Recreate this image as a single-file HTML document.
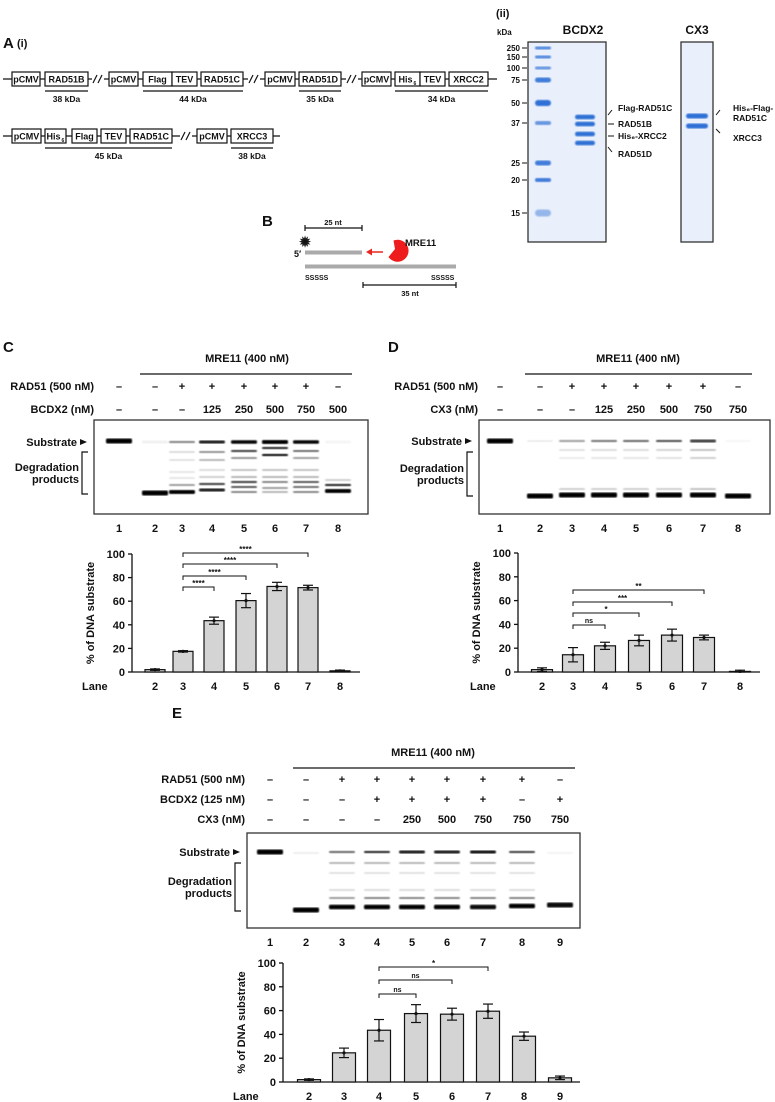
<!DOCTYPE html>
<html><head><meta charset="utf-8">
<style>
html,body{margin:0;padding:0;background:#fff;}
svg{display:block;font-family:"Liberation Sans",Arial,sans-serif;}
text{font-weight:bold;fill:#111;}
</style></head>
<body>
<svg id="fig" width="775" height="1102" viewBox="0 0 775 1102" xmlns="http://www.w3.org/2000/svg">
<defs>
<filter id="blur1"><feGaussianBlur stdDeviation="0.9"/></filter>
<filter id="blur2"><feGaussianBlur stdDeviation="1.3"/></filter>
</defs>
<g id="static">
<text x="3" y="48" font-size="15">A</text>
<text x="17" y="47" font-size="11">(i)</text>
<text x="496" y="17" font-size="11">(ii)</text>
<text x="262" y="226" font-size="15">B</text>
<text x="3" y="352" font-size="15">C</text>
<text x="388" y="352" font-size="15">D</text>
<text x="172" y="718" font-size="15">E</text>
</g>
<g id="plasmids"></g>
<g id="sds"></g>
<g id="schem"></g>
<g id="panelC"></g>
<g id="panelD"></g>
<g id="panelE"></g>
</svg>
<script>
// ---------- chart data ----------
const cLanes = ["2","3","4","5","6","7","8"];
const cValues = [2, 17.5, 43.5, 60.5, 72.5, 71.5, 1];
const cErrors = [0.6, 0.6, 3, 6, 3.5, 2, 0.6];
const cSigLabels = ["****","****","****","****"];
const cSigTargets = ["4","5","6","7"];

const dLanes = ["2","3","4","5","6","7","8"];
const dValues = [2, 14.5, 22, 26.5, 31, 29, 0.5];
const dErrors = [1.5, 6, 3, 4.5, 5, 2, 1];
const dSigLabels = ["ns","*","***","**"];
const dSigTargets = ["4","5","6","7"];

const eLanes = ["2","3","4","5","6","7","8","9"];
const eValues = [2, 24.5, 43.5, 57.5, 57, 59.5, 38.5, 3.5];
const eErrors = [0.6, 4, 9, 7.5, 5, 6, 3.5, 1.5];
const eSigLabels = ["ns","ns","*"];
const eSigTargets = ["5","6","7"];

const yTicks = [0, 20, 40, 60, 80, 100];

const NS = "http://www.w3.org/2000/svg";
function mk(parent, tag, attrs, txt){
  const e = document.createElementNS(NS, tag);
  for (const k in attrs) e.setAttribute(k, attrs[k]);
  if (txt !== undefined) e.textContent = txt;
  parent.appendChild(e);
  return e;
}

// ---------- plasmid diagrams ----------
const P = document.getElementById('plasmids');
function plasmidRow(y, x0, x1, boxes, breaks, unders){
  let l = mk(P,'line',{x1:x0,x2:x1,y1:y,y2:y,stroke:'#111','stroke-width':1.2});
  
  
  boxes.forEach(b=>{
    let r = mk(P,'rect',{x:b[0],y:y-7,width:b[1]-b[0],height:14,fill:'#fff',stroke:'#111','stroke-width':1.2});
    
    
    let cx = (b[0]+b[1])/2 - (b[3]?2:0);
    let t = mk(P,'text',{x:cx,y:y+3.5,'font-size':9,'text-anchor':'middle'}, b[2]);
    
    
    if (b[3]) { let s = mk(P,'text',{x:cx+8,y:y+6,'font-size':5},'6');
      
       }
  });
  breaks.forEach(bx=>{
    let w = mk(P,'rect',{x:bx-6,y:y-2,width:12,height:4,fill:'#fff'});
    
    
    [-3,2].forEach(o=>{
      let s = mk(P,'line',{x1:bx+o-2,y1:y+4,x2:bx+o+2,y2:y-4,stroke:'#111','stroke-width':1.2});
      
      
    });
  });
  unders.forEach(u=>{
    let l2 = mk(P,'line',{x1:u[0],x2:u[1],y1:y+12,y2:y+12,stroke:'#111','stroke-width':1.2});
    
    
    let t = mk(P,'text',{x:(u[0]+u[1])/2,y:y+23,'font-size':8.5,'text-anchor':'middle'},u[2]);
    
    
  });
}
plasmidRow(79, 3, 497,
 [[12,40,'pCMV'],[45,88,'RAD51B'],[109,138,'pCMV'],[143,172,'Flag'],[172,197,'TEV'],[201,243,'RAD51C'],[265,295,'pCMV'],[299,341,'RAD51D'],[362,391,'pCMV'],[395,420,'His',1],[420,445,'TEV'],[449,488,'XRCC2']],
 [98,254,352],
 [[45,88,'38 kDa'],[143,243,'44 kDa'],[299,341,'35 kDa'],[395,488,'34 kDa']]);
plasmidRow(136, 3, 280,
 [[12,41,'pCMV'],[45,66,'His',1],[72,97,'Flag'],[101,126,'TEV'],[130,172,'RAD51C'],[197,227,'pCMV'],[231,273,'XRCC3']],
 [186],
 [[45,172,'45 kDa'],[231,273,'38 kDa']]);

// ---------- SDS-PAGE ----------
const S = document.getElementById('sds');
function gelBox(x,y,w,h,name){
  let r = mk(S,'rect',{x:x,y:y,width:w,height:h,fill:'#eaf0fb',stroke:'#333','stroke-width':1.3});
  
  
}
function blueBand(cx,y,w,h,op){
  let b = mk(S,'rect',{x:cx-w/2,y:y-h/2,width:w,height:h,rx:h/2,fill:'#2f6fd6',opacity:op,filter:'url(#blur1)'});
  
  
}
gelBox(528,42,78,200,'bcdx2-gel');
gelBox(681,42,32,200,'cx3-gel');
let t1 = mk(S,'text',{x:583,y:34,'font-size':12,'text-anchor':'middle'},'BCDX2');


let t2 = mk(S,'text',{x:697,y:34,'font-size':12,'text-anchor':'middle'},'CX3');


let kd = mk(S,'text',{x:497,y:35,'font-size':8},'kDa');


const markers = [['250',48,.8,3],['150',57,.8,3],['100',68,.7,3],['75',80,.9,5],['50',103,1,6],['37',123,.7,4],['25',163,.9,5],['20',180,.9,4],['15',213,.45,7]];
markers.forEach(m=>{
  blueBand(543,m[1],16,m[3],m[2]);
  let t = mk(S,'text',{x:520,y:m[1]+3,'font-size':8,'text-anchor':'end'},m[0]);
  
  
  let l = mk(S,'line',{x1:522,x2:527,y1:m[1],y2:m[1],stroke:'#111','stroke-width':1});
  
  
});
[117,124,134,143].forEach(y=>blueBand(585,y,20,4.5,1));
[116,126].forEach(y=>blueBand(697,y,22,5,1));
const sdsLabels = [[618,111,'Flag-RAD51C'],[618,127,'RAD51B'],[618,139,'His₆-XRCC2'],[618,157,'RAD51D'],[733,111,'His₆-Flag-'],[733,121,'RAD51C'],[733,141,'XRCC3']];
sdsLabels.forEach(s=>{
  let t = mk(S,'text',{x:s[0],y:s[1],'font-size':8.5},s[2]);
  
  
});
[[608,115,612,110],[608,124,614,124],[608,136,614,136],[608,147,612,152],[716,115,720,110],[716,129,720,133]].forEach(l=>{
  let e = mk(S,'line',{x1:l[0],y1:l[1],x2:l[2],y2:l[3],stroke:'#111','stroke-width':1});
  
  
});

// ---------- Schematic B ----------
const B = document.getElementById('schem');
function sl(x1,y1,x2,y2,c,w,name){
  let e = mk(B,'line',{x1:x1,y1:y1,x2:x2,y2:y2,stroke:c,'stroke-width':w});
  
  
}
sl(305,228,362,228,'#111',1.2,'length-bar-25nt');
sl(305,225,305,231,'#111',1.2,'length-bar-cap');
sl(362,225,362,231,'#111',1.2,'length-bar-cap');
let n25 = mk(B,'text',{x:333,y:225,'font-size':7.5,'text-anchor':'middle'},'25 nt');


let star = mk(B,'text',{x:305,y:246,'font-size':12,'text-anchor':'middle',fill:'#d8c800',stroke:'#222','stroke-width':0.5},'✹');


let p5 = mk(B,'text',{x:294,y:257,'font-size':9,'font-weight':'normal'},'5′');


sl(305,252.5,362,252.5,'#aaa',4,'top-strand');
sl(305,266.5,456,266.5,'#aaa',4,'bottom-strand');
sl(370,252,383,252,'#e8261d',1.5,'nuclease-arrow');
let ah = mk(B,'path',{d:'M366 252 L372 248.5 L372 255.5 Z',fill:'#e8261d'});


let pac = mk(B,'path',{d:'M393.5 240.5 A11 11 0 1 1 388.5 257 L395 249 Z',fill:'#ee1c1c'});


let mre = mk(B,'text',{x:405,y:246,'font-size':9.5},'MRE11');


[305,431].forEach(x=>{
  let s = mk(B,'text',{x:x,y:280,'font-size':7,fill:'#777','font-weight':'normal'},'SSSSS');
  
  
});
sl(363,285,456,285,'#111',1.2,'length-bar-35nt');
sl(363,282,363,288,'#111',1.2,'length-bar-cap');
sl(456,282,456,288,'#111',1.2,'length-bar-cap');
let n35 = mk(B,'text',{x:410,y:296,'font-size':7.5,'text-anchor':'middle'},'35 nt');



// ---------- Panels C, D, E ----------
function panel(G, cfg){
  let mt = mk(G,'text',{x:cfg.mreX,y:cfg.mreY,'font-size':11,'text-anchor':'middle'},'MRE11 (400 nM)');
  
  
  let ml = mk(G,'line',{x1:cfg.mreL[0],x2:cfg.mreL[1],y1:cfg.mreY+12,y2:cfg.mreY+12,stroke:'#111','stroke-width':1.2});
  
  
  cfg.rows.forEach(r=>{
    let lt = mk(G,'text',{x:cfg.labelRight,y:r.y+4,'font-size':11,'text-anchor':'end'},r.label);
    
    
    r.vals.forEach((v,i)=>{
      let vt = mk(G,'text',{x:cfg.cols[i],y:r.y+4,'font-size':11,'text-anchor':'middle'},v==='-'?'–':v);
      
      
    });
  });
  const g = cfg.gel;
  let gb = mk(G,'rect',{x:g.x,y:g.y,width:g.w,height:g.h,fill:'#fff',stroke:'#333','stroke-width':1.3});
  
  
  g.lanes.forEach((bands,i)=>{
    bands.forEach(b=>{
      let r = mk(G,'rect',{x:cfg.cols[i]-13,y:b[0]-b[2]/2,width:26,height:b[2],rx:1.5,fill:'#000',opacity:b[1],filter:'url(#blur1)'});
      
      
    });
  });
  let st = mk(G,'text',{x:g.x-17,y:g.subY+4,'font-size':11,'text-anchor':'end'},'Substrate');
  
  
  let sa = mk(G,'path',{d:`M${g.x-14} ${g.subY-3} L${g.x-7} ${g.subY} L${g.x-14} ${g.subY+3} Z`,fill:'#111'});
  
  
  let br = mk(G,'path',{d:`M${g.x-6} ${g.brk[0]} L${g.x-12} ${g.brk[0]} L${g.x-12} ${g.brk[1]} L${g.x-6} ${g.brk[1]}`,fill:'none',stroke:'#111','stroke-width':1.2});
  
  
  let d1 = mk(G,'text',{x:g.x-15,y:(g.brk[0]+g.brk[1])/2-2,'font-size':11,'text-anchor':'end'},'Degradation');
  
  
  let d2 = mk(G,'text',{x:g.x-15,y:(g.brk[0]+g.brk[1])/2+10,'font-size':11,'text-anchor':'end'},'products');
  
  
  cfg.cols.forEach((x,i)=>{
    let ln = mk(G,'text',{x:x,y:g.y+g.h+18,'font-size':11,'text-anchor':'middle'},String(i+1));
    
    
  });
  const c = cfg.chart;
  const yS = v => c.y0 - v*(c.y0-c.y100)/100;
  const xOf = lane => c.barX[c.lanes.indexOf(lane)];
  let ax = mk(G,'line',{x1:c.ax,x2:c.ax,y1:c.y100,y2:c.y0,stroke:'#111','stroke-width':1.3});
  
  
  let bx = mk(G,'line',{x1:c.ax,x2:c.axEnd,y1:c.y0,y2:c.y0,stroke:'#111','stroke-width':1.3});
  
  
  yTicks.forEach(t=>{
    let tk = mk(G,'line',{x1:c.ax-4,x2:c.ax,y1:yS(t),y2:yS(t),stroke:'#111','stroke-width':1.3});
    
    
    let tl = mk(G,'text',{x:c.ax-7,y:yS(t)+4,'font-size':11,'text-anchor':'end'},String(t));
    
    
  });
  let yt = mk(G,'text',{x:0,y:0,'font-size':11,'text-anchor':'middle',transform:`translate(${c.ax-38},${(c.y0+c.y100)/2}) rotate(-90)`},'% of DNA substrate');
  
  
  let lw = mk(G,'text',{x:c.laneX,y:c.y0+18,'font-size':11},'Lane');
  
  
  c.values.forEach((v,i)=>{
    const x = c.barX[i];
    let bar = mk(G,'rect',{x:x-c.bw/2,y:yS(v),width:c.bw,height:c.y0-yS(v),fill:'#d4d4d4',stroke:'#111','stroke-width':1.2});
    
    
    const e = c.errors[i];
    let ev = mk(G,'line',{x1:x,x2:x,y1:yS(v+e),y2:yS(Math.max(0,v-e)),stroke:'#111','stroke-width':1.2});
    
    
    [v+e, Math.max(0,v-e)].forEach(q=>{
      let cp = mk(G,'line',{x1:x-5,x2:x+5,y1:yS(q),y2:yS(q),stroke:'#111','stroke-width':1.2});
      
      
    });
    let dp = mk(G,'circle',{cx:x,cy:yS(v),r:1.6,fill:'#111'});
    
    
    let xl = mk(G,'text',{x:x,y:c.y0+18,'font-size':11,'text-anchor':'middle'},c.lanes[i]);
    
    
  });
  c.sigTargets.forEach((tgt,i)=>{
    const x1 = xOf(c.sigFrom), x2 = xOf(tgt), y = c.sigY[i];
    let p = mk(G,'path',{d:`M${x1} ${y+4} L${x1} ${y} L${x2} ${y} L${x2} ${y+4}`,fill:'none',stroke:'#111','stroke-width':1});
    
    
    const lab = c.sigLabels[i];
    let st2 = mk(G,'text',{x:(x1+x2)/2,y:lab==='ns'?y-2:y-1,'font-size':lab==='ns'?7:8,'text-anchor':'middle','font-weight':lab==='ns'?'normal':'bold'},lab);
    
    
  });
}

panel(document.getElementById('panelC'),{
  mreX:247, mreY:362, mreL:[140,352], labelRight:94,
  cols:[119,155,182,212,244,275,306,338],
  rows:[{y:386,label:'RAD51 (500 nM)',vals:['-','-','+','+','+','+','+','-']},
        {y:409,label:'BCDX2 (nM)',vals:['-','-','-','125','250','500','750','500']}],
  gel:{x:94,y:420,w:274,h:94,subY:442,brk:[452,494],
    lanes:[
      [[441,1,5]],
      [[442,.06,3],[493,1,5]],
      [[442,.45,2.5],[452,.15,2],[460,.12,2],[472,.1,2],[478,.1,2],[485,.4,2],[492,1,4]],
      [[442,.9,3],[452,.45,2],[460,.3,2],[470,.15,2],[477,.2,2],[484,.7,2.5],[490,.9,3]],
      [[442,1,3.5],[451,.7,2.5],[458,.45,2],[470,.25,2],[477,.3,2],[482,.7,2.5],[487,.7,2],[492,.5,2]],
      [[442,1,4],[448,.8,2.5],[455,.9,2.5],[470,.25,2],[477,.3,2],[482,.5,2],[488,.4,2],[492,.3,2]],
      [[442,1,3.5],[451,.6,2],[458,.4,2],[470,.25,2],[477,.3,2],[482,.7,2],[487,.6,2],[492,.5,2]],
      [[442,.04,3],[480,.2,2],[485,.8,2.5],[491,1,4]]
    ]},
  chart:{ax:132, axEnd:360, y0:672, y100:554, bw:20, laneX:82,
    barX:[155,183,214,246,277,308,340], lanes:cLanes, values:cValues, errors:cErrors,
    sigFrom:"3", sigTargets:cSigTargets, sigLabels:cSigLabels, sigY:[587,576,564,553]}
});
panel(document.getElementById('panelD'),{
  mreX:638, mreY:362, mreL:[525,752], labelRight:478,
  cols:[500,540,572,604,636,669,703,738],
  rows:[{y:386,label:'RAD51 (500 nM)',vals:['-','-','+','+','+','+','+','-']},
        {y:409,label:'CX3 (nM)',vals:['-','-','-','125','250','500','750','750']}],
  gel:{x:479,y:420,w:291,h:94,subY:441,brk:[452,496],
    lanes:[
      [[441,1,5]],
      [[441,.08,2],[496,1,5]],
      [[441,.35,2.5],[450,.12,2],[458,.08,2],[489,.2,2],[495,1,5]],
      [[441,.5,2.5],[450,.15,2],[458,.1,2],[489,.2,2],[495,1,5]],
      [[441,.55,2.5],[450,.15,2],[458,.1,2],[489,.2,2],[495,1,5]],
      [[441,.65,2.5],[450,.18,2],[458,.12,2],[489,.2,2],[495,1,5]],
      [[441,.75,3],[450,.25,2],[458,.2,2],[489,.25,2],[495,1,5]],
      [[441,.04,2],[496,1,5]]
    ]},
  chart:{ax:518, axEnd:760, y0:672, y100:553, bw:21, laneX:470,
    barX:[542,573,605,639,672,704,740], lanes:dLanes, values:dValues, errors:dErrors,
    sigFrom:"3", sigTargets:dSigTargets, sigLabels:dSigLabels, sigY:[625,613,602,590]}
});
panel(document.getElementById('panelE'),{
  mreX:433, mreY:756, mreL:[293,575], labelRight:245,
  cols:[270,306,342,377,412,447,483,522,560],
  rows:[{y:779,label:'RAD51 (500 nM)',vals:['-','-','+','+','+','+','+','+','-']},
        {y:799,label:'BCDX2 (125 nM)',vals:['-','-','-','+','+','+','+','-','+']},
        {y:819,label:'CX3 (nM)',vals:['-','-','-','-','250','500','750','750','750']}],
  gel:{x:247,y:833,w:333,h:95,subY:852,brk:[863,911],
    lanes:[
      [[852,1,5]],
      [[853,.07,2],[910,1,5]],
      [[852,.55,2.5],[863,.3,2],[873,.12,2],[890,.15,2],[898,.4,2],[907,1,4.5]],
      [[852,.8,2.5],[863,.3,2],[873,.12,2],[890,.15,2],[898,.5,2],[907,1,4.5]],
      [[852,.9,3],[863,.3,2],[873,.12,2],[890,.15,2],[898,.5,2],[907,1,4.5]],
      [[852,.9,3],[863,.3,2],[873,.12,2],[890,.15,2],[898,.5,2],[907,1,4.5]],
      [[852,.95,3],[863,.3,2],[873,.12,2],[890,.15,2],[898,.5,2],[907,.95,4.5]],
      [[852,.7,2.5],[863,.3,2],[873,.12,2],[890,.15,2],[898,.5,2],[906,1,4.5]],
      [[853,.05,2],[905,.95,5]]
    ]},
  chart:{ax:283, axEnd:580, y0:1082, y100:963, bw:23, laneX:233,
    barX:[309,344,379,416,452,488,524,560], lanes:eLanes, values:eValues, errors:eErrors,
    sigFrom:"4", sigTargets:eSigTargets, sigLabels:eSigLabels, sigY:[994,980,967]}
});
</script>
</body></html>
